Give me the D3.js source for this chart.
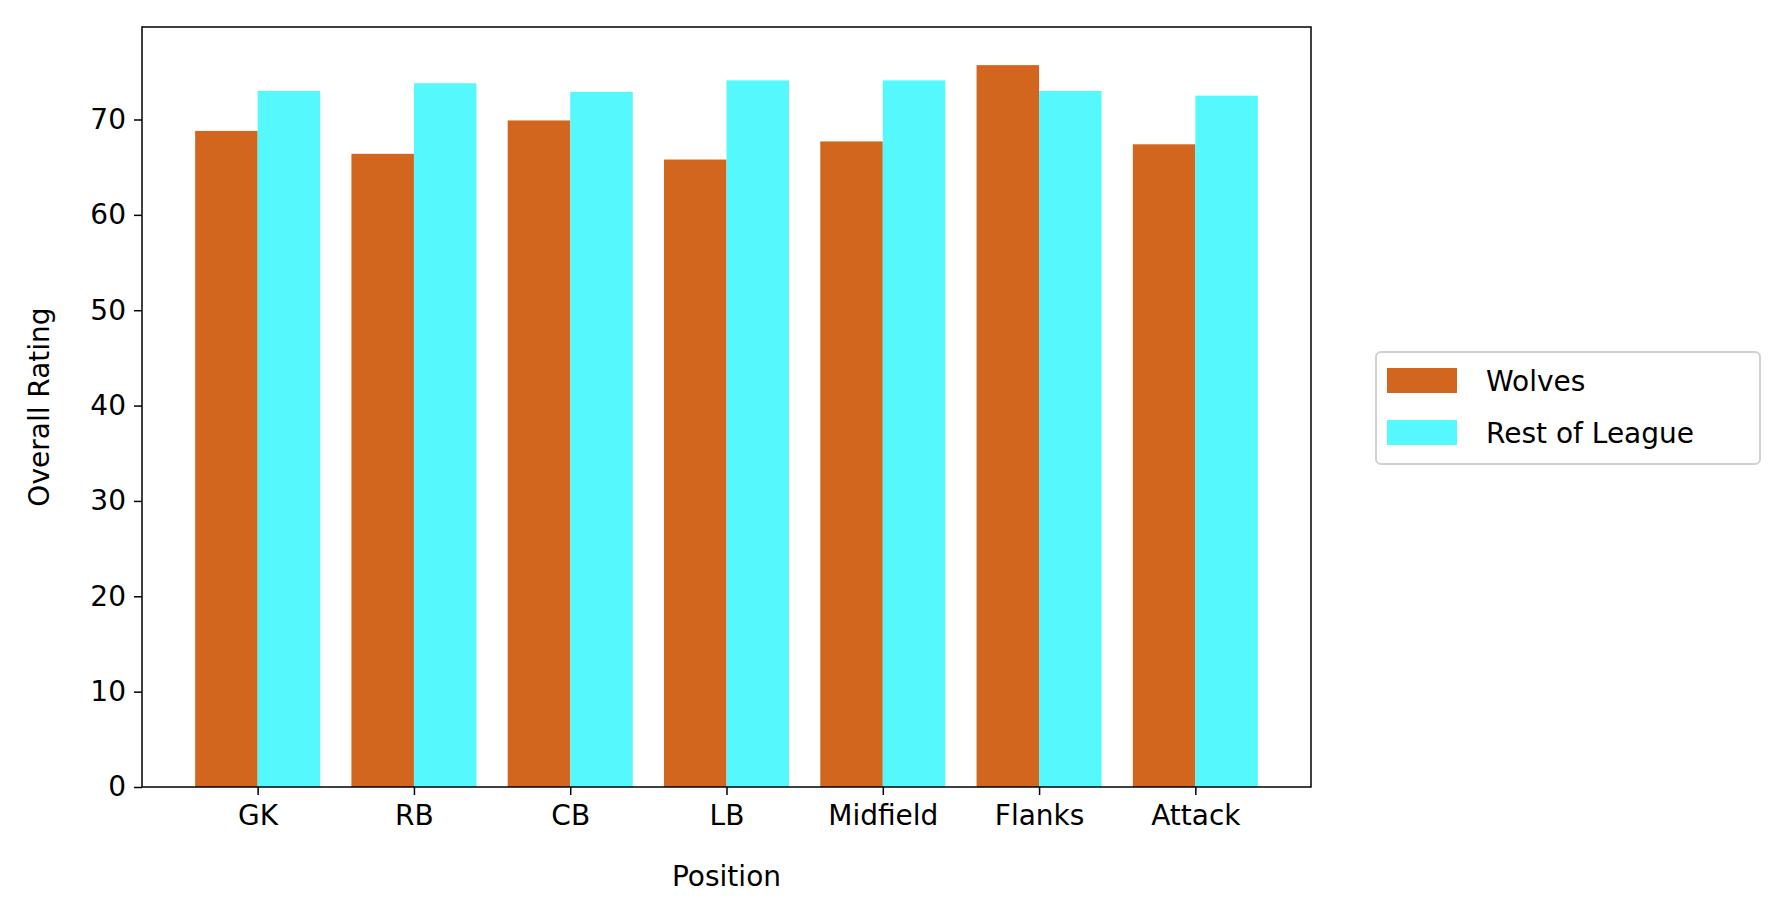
<!DOCTYPE html>
<html>
<head>
<meta charset="utf-8">
<script src="https://cdn.jsdelivr.net/npm/d3@7"></script>
<style>
    body { margin: 0; background: #fff; }
    text { font-family: "DejaVu Sans", sans-serif; fill: #000; }
</style>
</head>
<body>
<svg id="chart" width="1776" height="914"></svg>
<script>
const positions = ['GK', 'RB', 'CB', 'LB', 'Midfield', 'Flanks', 'Attack'];
const wolves = [68.8, 66.4, 69.9, 65.8, 67.7, 75.7, 67.4];
const restOfLeague = [73.0, 73.8, 72.9, 74.1, 74.1, 73.0, 72.5];
const yTicks = [0, 10, 20, 30, 40, 50, 60, 70];

const svg = d3.select('#chart');
const plotLeft = 142, plotRight = 1311, plotTop = 27, plotBottom = 787;
const barW = 0.4;

const x = d3.scaleLinear().domain([-0.74, 6.74]).range([plotLeft, plotRight]);
const y = d3.scaleLinear().domain([0, 79.7]).range([plotBottom, plotTop]);

// 柱子
const series = [
    { name: 'Wolves', values: wolves, color: '#d2661f', offset: -barW },
    { name: 'Rest of League', values: restOfLeague, color: '#55f9fd', offset: 0 }
];
series.forEach(s => {
    svg.append('g').selectAll('rect')
        .data(s.values)
        .enter().append('rect')
        .attr('x', (d, i) => x(i + s.offset))
        .attr('width', x(barW) - x(0))
        .attr('y', d => y(d))
        .attr('height', d => y(0) - y(d))
        .attr('fill', s.color);
});

// 坐标轴
const xAxis = svg.append('g')
    .attr('transform', `translate(0,${plotBottom})`)
    .call(d3.axisBottom(x).tickValues(d3.range(positions.length)).tickFormat(i => positions[i]).tickSize(8).tickPadding(10));
const yAxis = svg.append('g')
    .attr('transform', `translate(${plotLeft},0)`)
    .call(d3.axisLeft(y).tickValues(yTicks).tickSize(8).tickPadding(8));
[xAxis, yAxis].forEach(a => {
    a.select('.domain').remove();
    a.selectAll('line').attr('stroke', '#000').attr('stroke-width', 1.5);
    a.selectAll('text').style('font-size', '28px').style('font-family', '"DejaVu Sans", sans-serif');
});

svg.append('rect')
    .attr('x', plotLeft).attr('y', plotTop)
    .attr('width', plotRight - plotLeft).attr('height', plotBottom - plotTop)
    .attr('fill', 'none').attr('stroke', '#000').attr('stroke-width', 1.5);

svg.append('text')
    .attr('x', (plotLeft + plotRight) / 2).attr('y', 886)
    .attr('text-anchor', 'middle').style('font-size', '28px')
    .text('Position');
svg.append('text')
    .attr('transform', `translate(49,${(plotTop + plotBottom) / 2}) rotate(-90)`)
    .attr('text-anchor', 'middle').style('font-size', '28px')
    .text('Overall Rating');

// 图例
const legend = svg.append('g').attr('transform', 'translate(1376,352)');
legend.append('rect')
    .attr('width', 384).attr('height', 112).attr('rx', 5)
    .attr('fill', '#fff').attr('stroke', '#d0d0d0').attr('stroke-width', 2);
series.forEach((s, i) => {
    legend.append('rect')
        .attr('x', 11).attr('y', 16 + i * 52)
        .attr('width', 70).attr('height', 25)
        .attr('fill', s.color);
    legend.append('text')
        .attr('x', 110).attr('y', 39 + i * 52)
        .style('font-size', '28px')
        .text(s.name);
});
</script>
</body>
</html>
